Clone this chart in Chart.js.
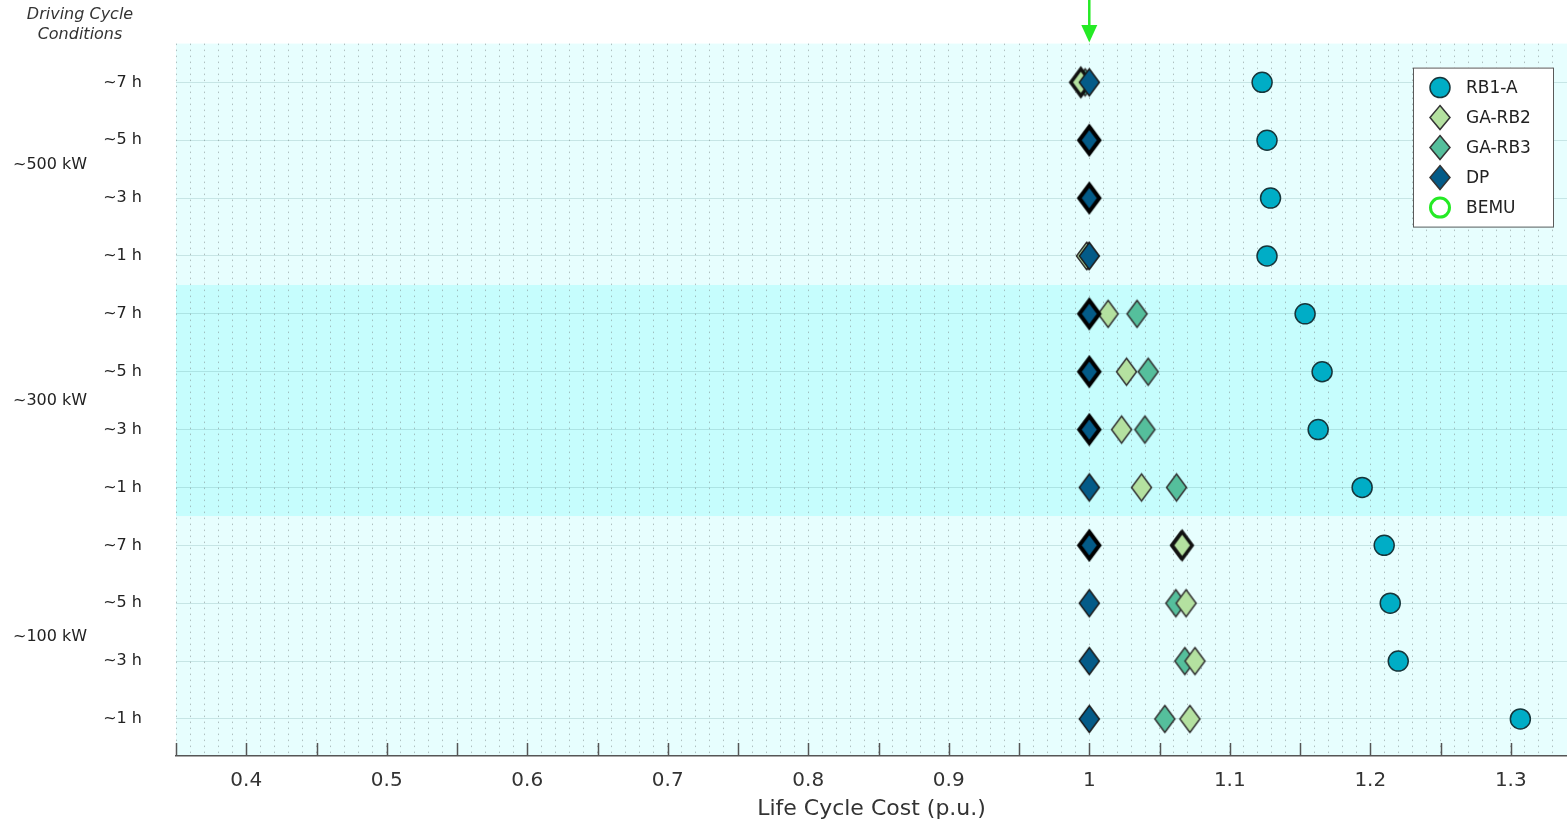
<!DOCTYPE html>
<html>
<head>
<meta charset="utf-8">
<title>Life Cycle Cost by Driving Cycle Condition</title>
<script src="https://cdn.jsdelivr.net/npm/chart.js@4.4.0/dist/chart.umd.min.js"></script>
<style>
  html, body { margin: 0; padding: 0; background: #ffffff; }
  #wrap { width: 1567px; height: 823px; position: relative; }
</style>
</head>
<body>
<div id="wrap"><canvas id="lcc" width="1567" height="823"></canvas></div>
<script>
// ---- data (rows listed top to bottom) ----
const powerGroups = ['~500 kW', '~300 kW', '~100 kW'];
const cycleDurations = ['~7 h', '~5 h', '~3 h', '~1 h'];
const rowLabels = powerGroups.flatMap(() => cycleDurations);

const rb1a  = [1.123, 1.1265, 1.129, 1.1265, 1.1536, 1.1657, 1.1629, 1.1942, 1.2099, 1.2142, 1.2199, 1.3068];
const gaRb2 = [0.994, 1.000, 1.000, 0.998, 1.0134, 1.0265, 1.023, 1.0372, 1.0661, 1.0689, 1.0752, 1.0716];
const gaRb3 = [0.997, 1.000, 1.000, 0.999, 1.034, 1.0419, 1.0396, 1.0621, 1.065, 1.0616, 1.068, 1.0538];
const dp    = [1.000, 1.000, 1.000, 1.000, 1.000, 1.000, 1.000, 1.000, 1.000, 1.000, 1.000, 1.000];

// points drawn with a heavy outline
const gaRb2Bold = [true, false, false, false, false, false, false, false, true, false, false, false];
const dpBold    = [false, true, true, false, true, true, true, false, true, false, false, false];

// BEMU reference cost (p.u.)
const bemuRef = 1.0;

const xTickLabels = [0.4, 0.5, 0.6, 0.7, 0.8, 0.9, 1.0, 1.1, 1.2, 1.3];

// ---- styling ----
const FONT = '"DejaVu Sans", Verdana, sans-serif';
const COLORS = {
  rb1a: '#00adc6', gaRb2: '#b4e1a0', gaRb3: '#55bf9c', dp: '#045b88', bemu: '#25ea25',
  bandLight: '#e7fefe', bandMid: '#c6fdfd'
};
const nRows = rowLabels.length;
const toPoints = arr => arr.map((v, i) => ({ x: v, y: nRows - i }));

// elongated diamond marker rendered once into a small canvas
function diamondMarker(fill, stroke, lw, w, h) {
  const c = document.createElement('canvas');
  c.width = Math.ceil(w + 2 * lw + 4);
  c.height = Math.ceil(h + 2 * lw + 4);
  const g = c.getContext('2d');
  const cx = c.width / 2, cy = c.height / 2;
  g.beginPath();
  g.moveTo(cx, cy - h / 2);
  g.lineTo(cx + w / 2, cy);
  g.lineTo(cx, cy + h / 2);
  g.lineTo(cx - w / 2, cy);
  g.closePath();
  g.fillStyle = fill;
  g.fill();
  g.lineJoin = 'miter';
  g.lineWidth = lw;
  g.strokeStyle = stroke;
  g.stroke();
  return c;
}
const DW = 20, DH = 27;
const markers = {
  gaRb2: diamondMarker(COLORS.gaRb2, '#333333', 1.5, DW, DH),
  gaRb2Bold: diamondMarker(COLORS.gaRb2, '#111111', 3.5, DW, DH),
  gaRb3: diamondMarker(COLORS.gaRb3, '#333333', 1.5, DW, DH),
  dp: diamondMarker(COLORS.dp, '#1a1a1a', 1.5, DW, DH),
  dpBold: diamondMarker(COLORS.dp, '#000000', 4, DW, DH)
};

// background bands, one per power group
const bandPlugin = {
  id: 'bands',
  beforeDraw(chart) {
    const { ctx, chartArea: a, scales: { y } } = chart;
    const per = cycleDurations.length;
    ctx.save();
    powerGroups.forEach((g, gi) => {
      const hi = gi === 0 ? y.max : nRows - gi * per + 0.5;
      const lo = gi === powerGroups.length - 1 ? y.min : nRows - (gi + 1) * per + 0.5;
      const top = y.getPixelForValue(hi), bot = y.getPixelForValue(lo);
      ctx.fillStyle = gi === 1 ? COLORS.bandMid : COLORS.bandLight;
      ctx.fillRect(a.left, top, a.right - a.left, bot - top);
    });
    ctx.restore();
  }
};

// inward tick marks, group labels, header text, BEMU arrow
const decorPlugin = {
  id: 'decor',
  afterDraw(chart) {
    const { ctx, chartArea: a, scales: { x, y } } = chart;
    ctx.save();
    // tick marks every 0.05 pointing into the plot
    ctx.strokeStyle = '#555555';
    ctx.lineWidth = 1.5;
    for (let k = 35; k <= 134; k += 5) {
      const px = Math.round(x.getPixelForValue(k / 100)) + 0.5;
      ctx.beginPath();
      ctx.moveTo(px, a.bottom - 13);
      ctx.lineTo(px, a.bottom);
      ctx.stroke();
    }
    // group labels
    ctx.fillStyle = '#222222';
    ctx.font = '16px ' + FONT;
    ctx.textAlign = 'left';
    ctx.textBaseline = 'middle';
    const groupPos = [10.57, 6.5, 2.42];
    powerGroups.forEach((g, gi) => ctx.fillText(g, 13, y.getPixelForValue(groupPos[gi])));
    // header
    ctx.font = 'italic 16px ' + FONT;
    ctx.textAlign = 'center';
    ctx.fillStyle = '#333333';
    ctx.fillText('Driving Cycle', 80, 15);
    ctx.fillText('Conditions', 80, 35);
    // BEMU reference arrow
    const ax = x.getPixelForValue(bemuRef);
    ctx.strokeStyle = COLORS.bemu;
    ctx.fillStyle = COLORS.bemu;
    ctx.lineWidth = 2.5;
    ctx.beginPath();
    ctx.moveTo(ax, 0);
    ctx.lineTo(ax, 27);
    ctx.stroke();
    ctx.beginPath();
    ctx.moveTo(ax - 8, 25);
    ctx.lineTo(ax + 8, 25);
    ctx.lineTo(ax, a.top - 1);
    ctx.closePath();
    ctx.fill();
    ctx.restore();
  }
};

// boxed legend in the upper right of the plot
const legendPlugin = {
  id: 'boxLegend',
  afterDraw(chart) {
    const { ctx, chartArea: a } = chart;
    const ds = chart.data.datasets;
    const w = 140, rowH = 30, h = ds.length * rowH + 9;
    const left = a.right - 14 - w, top = a.top + 24;
    ctx.save();
    ctx.fillStyle = '#ffffff';
    ctx.fillRect(left, top, w, h);
    ctx.strokeStyle = '#5a5a5a';
    ctx.lineWidth = 1;
    ctx.strokeRect(left + 0.5, top + 0.5, w, h);
    ds.forEach((d, i) => {
      const cy = top + 20 + i * rowH, cx = left + 27;
      ctx.beginPath();
      if (d.legendShape === 'circle') {
        ctx.arc(cx, cy, 10, 0, Math.PI * 2);
        ctx.fillStyle = d.backgroundColor;
        ctx.fill();
        ctx.lineWidth = 1.5;
        ctx.strokeStyle = d.borderColor;
        ctx.stroke();
      } else if (d.legendShape === 'ring') {
        ctx.arc(cx, cy, 9.5, 0, Math.PI * 2);
        ctx.lineWidth = 3;
        ctx.strokeStyle = d.borderColor;
        ctx.stroke();
      } else {
        ctx.moveTo(cx, cy - 12);
        ctx.lineTo(cx + 10, cy);
        ctx.lineTo(cx, cy + 12);
        ctx.lineTo(cx - 10, cy);
        ctx.closePath();
        ctx.fillStyle = d.legendFill;
        ctx.fill();
        ctx.lineWidth = 1.5;
        ctx.strokeStyle = '#333333';
        ctx.stroke();
      }
      ctx.fillStyle = '#222222';
      ctx.font = '17px ' + FONT;
      ctx.textAlign = 'left';
      ctx.textBaseline = 'middle';
      ctx.fillText(d.label, left + 53, cy + 1);
    });
    ctx.restore();
  }
};

new Chart(document.getElementById('lcc'), {
  type: 'scatter',
  data: {
    datasets: [
      {
        label: 'RB1-A', data: toPoints(rb1a), order: 3, legendShape: 'circle',
        pointStyle: 'circle', pointRadius: 10, pointBorderWidth: 1.5,
        backgroundColor: COLORS.rb1a, borderColor: '#17363b'
      },
      {
        label: 'GA-RB2', data: toPoints(gaRb2), order: 1, legendFill: COLORS.gaRb2,
        pointStyle: c => gaRb2Bold[c.dataIndex] ? markers.gaRb2Bold : markers.gaRb2,
        pointRadius: 10, backgroundColor: COLORS.gaRb2, borderColor: '#333333'
      },
      {
        label: 'GA-RB3', data: toPoints(gaRb3), order: 2, legendFill: COLORS.gaRb3,
        pointStyle: markers.gaRb3, pointRadius: 10,
        backgroundColor: COLORS.gaRb3, borderColor: '#333333'
      },
      {
        label: 'DP', data: toPoints(dp), order: 0, legendFill: COLORS.dp,
        pointStyle: c => dpBold[c.dataIndex] ? markers.dpBold : markers.dp,
        pointRadius: 10, backgroundColor: COLORS.dp, borderColor: '#1a1a1a'
      },
      {
        label: 'BEMU', data: [], order: 4, legendShape: 'ring',
        pointStyle: 'circle', pointRadius: 10, pointBorderWidth: 3,
        backgroundColor: 'rgba(0,0,0,0)', borderColor: COLORS.bemu
      }
    ]
  },
  options: {
    responsive: false,
    animation: false,
    events: [],
    layout: { autoPadding: false, padding: { top: 43, right: 0, left: 0, bottom: 0 } },
    plugins: { legend: { display: false }, tooltip: { enabled: false } },
    scales: {
      x: {
        type: 'linear', min: 0.35, max: 1.34,
        afterBuildTicks: s => {
          const t = [];
          for (let k = 35; k <= 134; k++) t.push({ value: k / 100 });
          s.ticks = t;
        },
        afterFit: s => { s.height = 67; },
        ticks: {
          autoSkip: false, maxRotation: 0, padding: 0, color: '#333333',
          font: { family: FONT, size: 20 },
          callback: v => xTickLabels.some(l => Math.abs(l - v) < 1e-6) ? String(+v.toFixed(1)) : ''
        },
        grid: {
          color: 'rgba(130,140,140,0.55)', lineWidth: 1,
          drawTicks: true, tickLength: 13, tickColor: 'rgba(0,0,0,0)'
        },
        border: { display: true, color: '#555555', width: 1.5, dash: [1.5, 4.5] },
        title: {
          display: true, text: 'Life Cycle Cost (p.u.)', color: '#333333',
          font: { family: FONT, size: 22 }, padding: { top: 0, bottom: 1 }
        }
      },
      y: {
        type: 'linear', min: 0.36, max: 12.67,
        afterBuildTicks: s => { s.ticks = rowLabels.map((_, i) => ({ value: i + 1 })); },
        afterFit: s => { s.width = 176; },
        ticks: {
          autoSkip: false, padding: 34, color: '#222222',
          font: { family: FONT, size: 16 },
          callback: v => rowLabels[nRows - v]
        },
        grid: { color: 'rgba(70,130,130,0.2)', lineWidth: 1, drawTicks: false },
        border: { display: false }
      }
    }
  },
  plugins: [bandPlugin, decorPlugin, legendPlugin]
});
</script>
</body>
</html>
